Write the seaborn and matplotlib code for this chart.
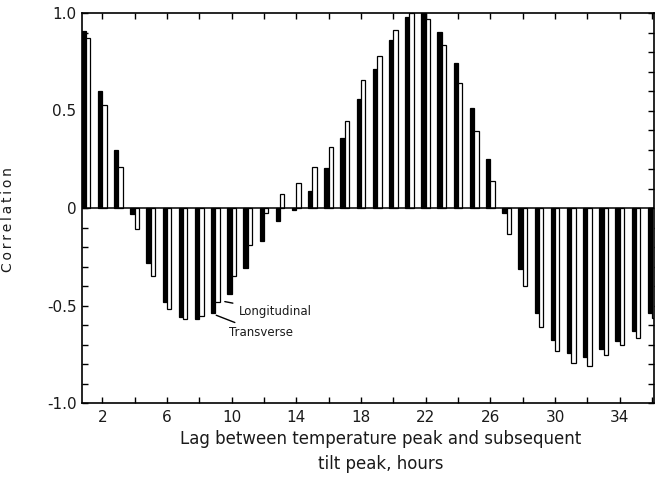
import numpy as np
import pandas as pd
import matplotlib
matplotlib.use("Agg")
import matplotlib.pyplot as plt
import seaborn as sns

lags = list(range(1, 37))
transverse = [0.91, 0.60, 0.30, -0.03, -0.28, -0.48, -0.56, -0.57, -0.54, -0.44,
              -0.31, -0.17, -0.066, -0.01, 0.085, 0.206, 0.357, 0.56, 0.714, 0.864,
              0.98, 1.0, 0.905, 0.743, 0.514, 0.252, -0.026, -0.315, -0.54, -0.675,
              -0.745, -0.762, -0.723, -0.68, -0.63, -0.536]
longitudinal = [0.87, 0.53, 0.21, -0.11, -0.35, -0.52, -0.57, -0.555, -0.48, -0.35,
                -0.19, -0.026, 0.073, 0.13, 0.21, 0.315, 0.447, 0.656, 0.78, 0.915,
                1.0, 0.97, 0.837, 0.643, 0.395, 0.14, -0.133, -0.40, -0.61, -0.735,
                -0.794, -0.808, -0.753, -0.70, -0.667, -0.565]
series_names = ["Transverse", "Longitudinal"]
xtick_labels = [2, 6, 10, 14, 18, 22, 26, 30, 34]
ytick_values = [-1.0, -0.5, 0.0, 0.5, 1.0]
ytick_labels = ["-1.0", "-0.5", "0", "0.5", "1.0"]

df = pd.DataFrame({
    "lag": lags * 2,
    "corr": transverse + longitudinal,
    "series": [series_names[0]] * len(lags) + [series_names[1]] * len(lags),
})

sns.set_style("white")
plt.rcParams['font.family'] = ['DejaVu Sans']

fig = plt.figure(figsize=(6.55, 4.84), dpi=100)
ax = fig.add_axes([82 / 655, 81 / 484, (655 - 82) / 655 - 0.002, (403 - 13) / 484])

sns.barplot(data=df, x="lag", y="corr", hue="series", hue_order=series_names,
            palette={"Transverse": "black", "Longitudinal": "white"},
            native_scale=True, width=0.54, dodge=True, gap=0,
            edgecolor="black", linewidth=0.9, legend=False, ax=ax, zorder=2)

ax.axhline(0, color="black", lw=1.1, zorder=3)
ax.set_xlim(0.75, 36.1)
ax.set_ylim(-1.0, 1.0)

txt = "#1a1a1a"
ax.set_xticks(xtick_labels)
ax.set_xticklabels([str(v) for v in xtick_labels], fontsize=11)
ax.set_xticks(list(range(4, 37, 4)), minor=True)
ax.set_yticks(ytick_values)
ax.set_yticklabels(ytick_labels, fontsize=11)
ax.set_yticks(np.arange(-1.0, 1.01, 0.1), minor=True)

ax.tick_params(axis="both", which="both", direction="in", top=True, right=True,
               bottom=True, left=True, length=4, width=1, color="black", labelcolor=txt)
ax.tick_params(axis="x", which="major", pad=5)
ax.tick_params(axis="y", which="major", pad=4)
for s in ax.spines.values():
    s.set_color("black")
    s.set_linewidth(1.2)

ax.set_xlabel("Lag between temperature peak and subsequent\ntilt peak, hours",
              fontsize=12, color=txt, linespacing=1.55)
ax.xaxis.set_label_coords(0.522, -0.068)
ax.set_ylabel("\u2009".join("Correlation"), fontsize=10, color=txt)
ax.yaxis.set_label_coords(-0.118, 0.47)

ax.annotate("Longitudinal", xy=(9.58, -0.48), xytext=(10.45, -0.53),
            fontsize=8.5, va="center", ha="left", color=txt,
            arrowprops=dict(arrowstyle="-", color="black", lw=1, shrinkA=2, shrinkB=0))
ax.annotate("Transverse", xy=(9.05, -0.55), xytext=(9.85, -0.64),
            fontsize=8.5, va="center", ha="left", color=txt,
            arrowprops=dict(arrowstyle="-", color="black", lw=1, shrinkA=1, shrinkB=0))

fig.savefig("out.png", dpi=100, facecolor="white")
